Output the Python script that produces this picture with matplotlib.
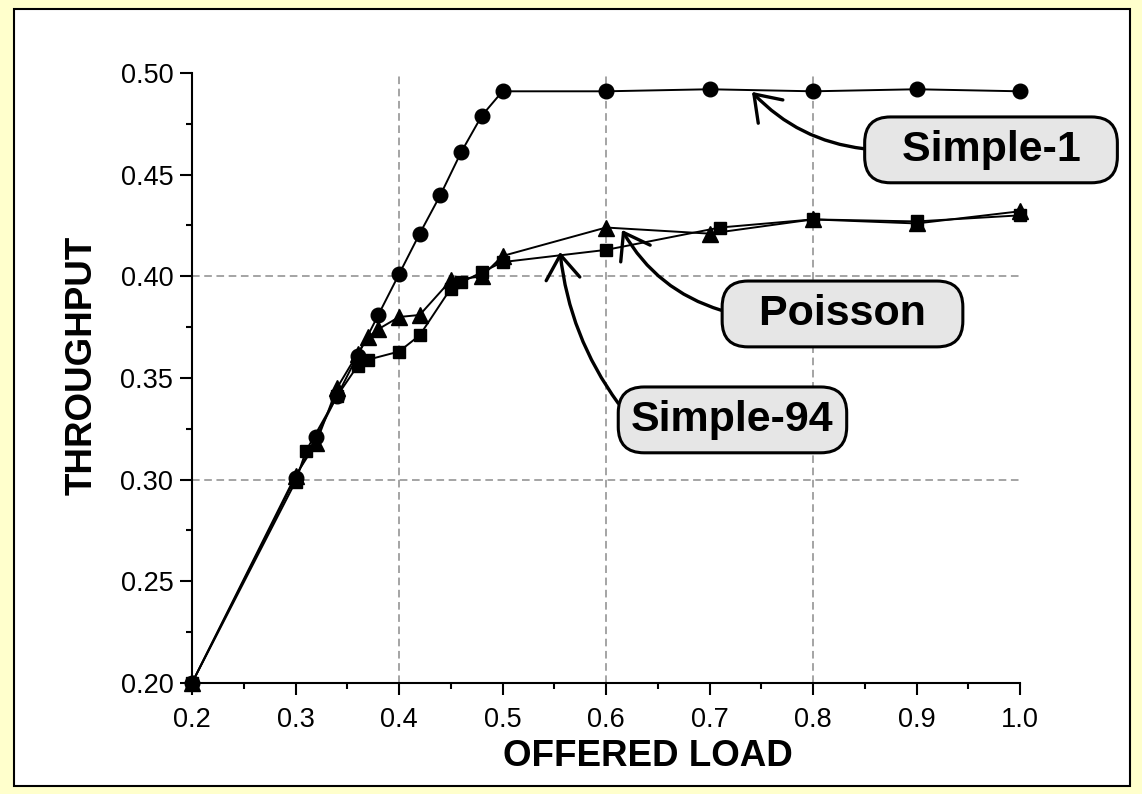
import matplotlib
matplotlib.use("Agg")
import matplotlib.pyplot as plt
from matplotlib.patches import Rectangle
from matplotlib.ticker import MultipleLocator, FormatStrFormatter

plt.rcParams['font.family'] = ['Liberation Sans', 'DejaVu Sans']

# ---- data ----
simple1_x = [0.20, 0.30, 0.32, 0.34, 0.36, 0.38, 0.40, 0.42, 0.44, 0.46, 0.48, 0.50, 0.60, 0.70, 0.80, 0.90, 1.00]
simple1_y = [0.200, 0.301, 0.321, 0.341, 0.361, 0.381, 0.401, 0.421, 0.440, 0.461, 0.479, 0.491, 0.491, 0.492, 0.491, 0.492, 0.491]

poisson_x = [0.20, 0.30, 0.32, 0.34, 0.36, 0.37, 0.38, 0.40, 0.42, 0.45, 0.48, 0.50, 0.60, 0.70, 0.80, 0.90, 1.00]
poisson_y = [0.200, 0.302, 0.318, 0.345, 0.362, 0.370, 0.374, 0.380, 0.381, 0.398, 0.400, 0.410, 0.424, 0.421, 0.428, 0.426, 0.432]

simple94_x = [0.20, 0.30, 0.31, 0.34, 0.36, 0.37, 0.40, 0.42, 0.45, 0.46, 0.48, 0.50, 0.60, 0.71, 0.80, 0.90, 1.00]
simple94_y = [0.200, 0.299, 0.314, 0.341, 0.356, 0.359, 0.363, 0.371, 0.394, 0.397, 0.402, 0.407, 0.413, 0.424, 0.428, 0.427, 0.430]

x_ticks = [0.2, 0.3, 0.4, 0.5, 0.6, 0.7, 0.8, 0.9, 1.0]
y_ticks = [0.20, 0.25, 0.30, 0.35, 0.40, 0.45, 0.50]
grid_x = [0.4, 0.6, 0.8]
grid_y = [0.30, 0.40]

labels = ["  Simple-1  ", "  Poisson  ", "Simple-94"]
label_pos = [(0.972, 0.4622), (0.8285, 0.3815), (0.7222, 0.3294)]
arrow_tips = [(0.741, 0.4907), (0.6155, 0.4228), (0.5556, 0.4120)]
arrow_rads = [-0.2, -0.22, -0.15]

# ---- figure ----
W, H = 1142, 794
fig = plt.figure(figsize=(W / 100, H / 100), dpi=100, facecolor='#FFFFCC')
frame = Rectangle((14 / W, 1 - 786 / H), (1130 - 14) / W, (786 - 9) / H,
                  transform=fig.transFigure, facecolor='white',
                  edgecolor='black', linewidth=1.5, zorder=-10)
fig.add_artist(frame)

ax = fig.add_axes([192 / W, 1 - 683 / H, (1020 - 192) / W, (683 - 73) / H])
ax.set_zorder(1)
ax.set_facecolor('none')
ax.set_xlim(0.2, 1.0)
ax.set_ylim(0.2, 0.5)

for s in ['top', 'right']:
    ax.spines[s].set_visible(False)
for s in ['left', 'bottom']:
    ax.spines[s].set_linewidth(1.5)

ax.set_xticks(x_ticks)
ax.set_yticks(y_ticks)
ax.xaxis.set_minor_locator(MultipleLocator(0.05))
ax.yaxis.set_minor_locator(MultipleLocator(0.025))
ax.xaxis.set_major_formatter(FormatStrFormatter('%.1f'))
ax.yaxis.set_major_formatter(FormatStrFormatter('%.2f'))
ax.tick_params(which='major', direction='out', length=8.5, width=1.5, labelsize=19.5)
ax.tick_params(axis='x', which='major', pad=8.5)
ax.tick_params(axis='y', which='major', pad=5)
ax.tick_params(which='minor', direction='out', length=4.5, width=1.5)

for gx in grid_x:
    ax.axvline(gx, color='#8c8c8c', lw=1.1, ls=(0, (5, 3)), zorder=1)
for gy in grid_y:
    ax.axhline(gy, color='#8c8c8c', lw=1.1, ls=(0, (5, 3)), zorder=1)

ax.plot(simple1_x, simple1_y, color='black', lw=1.4, marker='o', ms=10.5, zorder=3, clip_on=False)
ax.plot(poisson_x, poisson_y, color='black', lw=1.4, marker='^', ms=11.5, zorder=3, clip_on=False)
ax.plot(simple94_x, simple94_y, color='black', lw=1.4, marker='s', ms=9, zorder=3, clip_on=False)

ax.set_xlabel('OFFERED LOAD', fontsize=26.5, fontweight='bold', va='center')
ax.set_ylabel('THROUGHPUT', fontsize=26.5, fontweight='bold', va='center')
ax.xaxis.set_label_coords((648 - 192) / 828, (683 - 756) / 610)
ax.yaxis.set_label_coords((82 - 192) / 828, (683 - 365) / 610)

for lab, pos, tip, rad in zip(labels, label_pos, arrow_tips, arrow_rads):
    ax.annotate(lab, xy=tip, xytext=pos, textcoords='data',
                ha='center', va='center', fontsize=31, fontweight='bold', zorder=5,
                bbox=dict(boxstyle='round,pad=0.3,rounding_size=0.6',
                          facecolor='#E6E6E6', edgecolor='black', linewidth=2.2),
                arrowprops=dict(arrowstyle='->,head_length=0.6,head_width=0.42',
                                mutation_scale=29,
                                connectionstyle='arc3,rad=%s' % rad,
                                relpos=(0, 0.5), color='black', lw=2.4,
                                shrinkA=0, shrinkB=0))

fig.savefig('out.png', dpi=100, facecolor=fig.get_facecolor())
